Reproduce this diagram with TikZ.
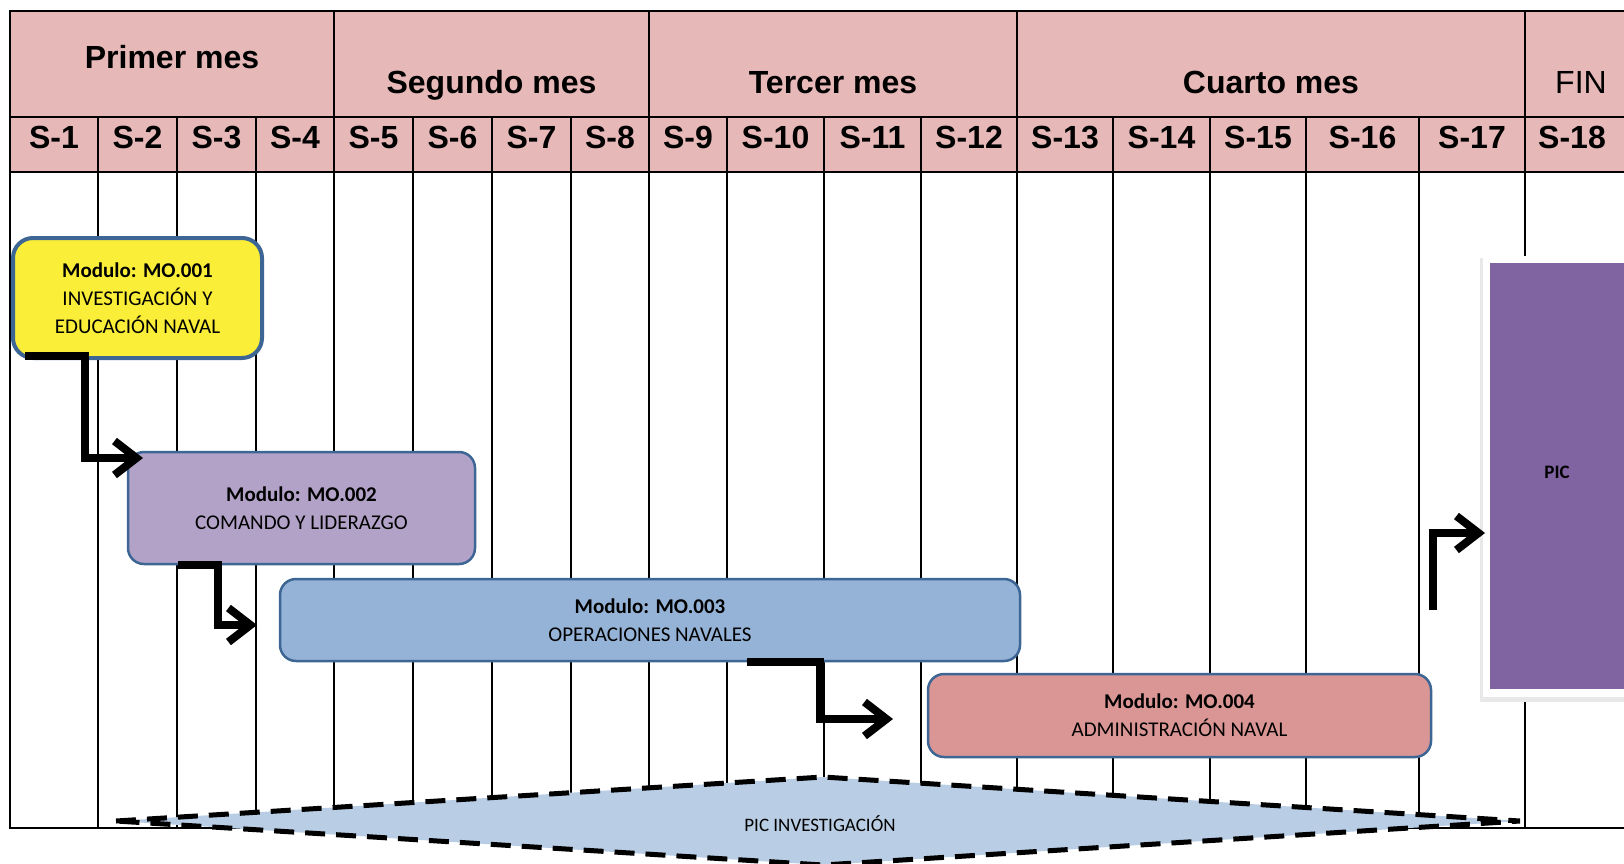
\documentclass[tikz,border=0pt]{standalone}
\usepackage{fontspec}
\setmainfont{Carlito}
\newfontfamily\arialf{Liberation Sans}
\usetikzlibrary{arrows.meta,shapes.geometric,calc}
\definecolor{hdr}{RGB}{230,184,183}
\definecolor{yel}{RGB}{250,238,56}
\definecolor{bord}{RGB}{62,102,148}
\definecolor{lila}{RGB}{178,162,199}
\definecolor{azul}{RGB}{149,179,215}
\definecolor{rojo}{RGB}{218,150,148}
\definecolor{picc}{RGB}{128,100,162}
\definecolor{diac}{RGB}{185,205,228}
\tikzset{
  gridline/.style={draw=black,line width=2pt,line cap=rect},
  monthlbl/.style={anchor=base,font=\arialf\bfseries\fontsize{32}{36}\selectfont,inner sep=0pt},
  weeklbl/.style={anchor=base,font=\arialf\bfseries\fontsize{32}{36}\selectfont,inner sep=0pt},
  modbox/.style={draw=bord,line width=2.5pt,rounded corners=16pt,align=center,
    font=\fontsize{21}{28}\selectfont,inner sep=0pt,outer sep=0pt,text=black},
  conn/.style={draw=black,line width=8pt,line join=miter,
    -{Straight Barb[length=22pt,width=34pt]}},
  diaedge/.style={draw=black,line width=5pt,dash pattern=on 20pt off 11pt,fill=diac},
}
\begin{document}
\begin{tikzpicture}[x=1pt,y=-1pt]
\useasboundingbox (0,0) rectangle (1624,863);
% header background
\fill[hdr] (10,11) rectangle (1624,172);
% grid
\foreach \y in {11,117,172,828} \draw[gridline] (10,\y) -- (1624,\y);
\foreach \x in {10,334,649,1017,1525} \draw[gridline] (\x,11) -- (\x,828);
\foreach \x in {98,177,256,413,492,571,727,824,921,1113,1210,1306,1419} \draw[gridline] (\x,117) -- (\x,828);
% month labels
\node[monthlbl] (mo1) at (172,68) {Primer mes};
\node[monthlbl] (mo2) at (491.5,93) {Segundo mes};
\node[monthlbl] (mo3) at (833,93) {Tercer mes};
\node[monthlbl] (mo4) at (1271,93) {Cuarto mes};
\node[monthlbl,font=\arialf\fontsize{32}{36}\selectfont] (mo5) at (1581,93) {FIN};
% week labels
\foreach \n/\x in {1/54,2/137.5,3/216.5,4/295,5/373.5,6/452.5,7/531.5,8/610,9/688,10/775.5,11/872.5,12/969,13/1065,14/1161.5,15/1258,16/1362.5,17/1472,18/1572}
  \node[weeklbl] (w\n) at (\x,148) {S-\n};
% PIC box with frame
\fill[black!9] (1480,258) rectangle (1630,702);
\fill[white] (1483,256) rectangle (1630,697);
\node[fill=picc,minimum width=134pt,minimum height=426pt,inner sep=0pt,outer sep=0pt,
  font=\bfseries\fontsize{19}{23}\selectfont] (pic) at (1557,476) {\raisebox{7pt}{PIC}};
% diamond
\coordinate (dc) at (818,821);
\path[diaedge] ($(dc)+(-702,0)$) -- ($(dc)+(5,-44)$) -- ($(dc)+(702,0)$) -- ($(dc)+(5,44)$) -- cycle;
\node[font=\fontsize{19}{23}\selectfont,inner sep=0pt] (pi) at (820,824) {PIC INVESTIGACIÓN};
% modules
\node[modbox,fill=yel,line width=4pt,rounded corners=20pt,minimum width=249pt,minimum height=120pt] (m1) at (137.5,298)
  {\textbf{Modulo: MO.001}\\INVESTIGACIÓN Y\\EDUCACIÓN NAVAL};
\node[modbox,fill=lila,minimum width=347pt,minimum height=112pt] (m2) at (301.5,508)
  {\textbf{Modulo: MO.002}\\COMANDO Y LIDERAZGO};
\node[modbox,fill=azul,minimum width=740pt,minimum height=82pt] (m3) at (650,620)
  {\textbf{Modulo: MO.003}\\OPERACIONES NAVALES};
\node[modbox,fill=rojo,minimum width=503pt,minimum height=83pt] (m4) at (1179.5,715.5)
  {\textbf{Modulo: MO.004}\\ADMINISTRACIÓN NAVAL};
% connectors
\draw[conn] ([xshift=12pt,yshift=2pt]m1.south west) -- ++(60,0) |- ([xshift=15pt,yshift=-6pt]m2.north west);
\draw[conn] ([xshift=50pt,yshift=-1pt]m2.south west) -- ++(40,0) |- ([xshift=-23pt,yshift=-5pt]m3.west);
\draw[conn] ([xshift=97pt,yshift=-1pt]m3.south) -- ++(73,0) |- ([xshift=-35pt,yshift=-3.5pt]m4.west);
\coordinate (a4) at (1433,610);
\draw[conn] (a4) |- ([xshift=-5pt,yshift=-57pt]pic.west);
\end{tikzpicture}
\end{document}
